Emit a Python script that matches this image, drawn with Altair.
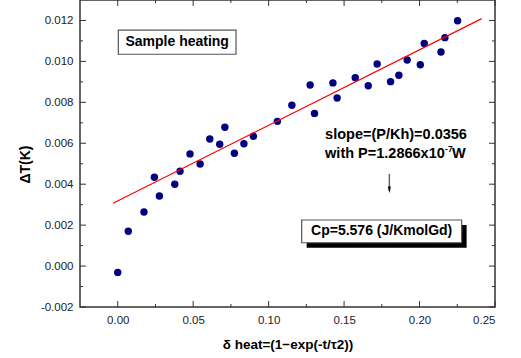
import altair as alt
import pandas as pd

# measured data
dheat = [0.0000, 0.0070, 0.0174, 0.0243, 0.0276, 0.0378, 0.0413, 0.0479, 0.0546, 0.0610,
         0.0676, 0.0710, 0.0773, 0.0836, 0.0899, 0.1058, 0.1154, 0.1275, 0.1304, 0.1426,
         0.1454, 0.1574, 0.1660, 0.1719, 0.1808, 0.1863, 0.1918, 0.2005, 0.2031, 0.2142,
         0.2168, 0.2252]
dT = [-0.00031, 0.00170, 0.00264, 0.00434, 0.00342, 0.00400, 0.00463, 0.00548, 0.00499, 0.00621,
      0.00595, 0.00678, 0.00551, 0.00598, 0.00634, 0.00707, 0.00786, 0.00885, 0.00746, 0.00895,
      0.00821, 0.00920, 0.00881, 0.00987, 0.00901, 0.00932, 0.01007, 0.00984, 0.01088, 0.01046,
      0.01116, 0.01199]

fit_x = [-0.0031, 0.2412]
fit_y = [0.00307, 0.01209]

x_major = [0.0, 0.05, 0.10, 0.15, 0.20, 0.25]
x_minor = [0.025, 0.075, 0.125, 0.175, 0.225]
y_major = [-0.002, 0.000, 0.002, 0.004, 0.006, 0.008, 0.010, 0.012]
y_minor = [-0.001, 0.001, 0.003, 0.005, 0.007, 0.009, 0.011]

# annotation positions (data coordinates)
sample_box = {"x": [0.0004], "x2": [0.0784], "y": [0.01153], "y2": [0.01035]}
sample_text = {"x": [0.0394], "y": [0.01095], "t": ["Sample heating"]}
cp_box = {"x": [0.1219], "x2": [0.2279], "y": [0.00225], "y2": [0.00114]}
cp_shadow = {"x": [0.1252], "x2": [0.2312], "y": [0.00201], "y2": [0.00090]}
cp_text = {"x": [0.1749], "y": [0.00170], "t": ["Cp=5.576 (J/KmolGd)"]}
slope_text = {"x": [0.1374, 0.1374, 0.2215], "y": [0.00640, 0.00546, 0.00546],
              "t": ["slope=(P/Kh)=0.0356", "with P=1.2866x10", "W"]}
sup_text = {"x": [0.2169], "y": [0.00574], "t": ["-7"]}
arrow_line = {"x": [0.18], "y": [0.00450], "y2": [0.00370]}
arrow_head = {"x": [0.18], "y": [0.00372]}

W, H = 415, 307
FONT = "Liberation Sans"

xs = alt.Scale(domain=[-0.025, 0.25], nice=False, zero=False)
ys = alt.Scale(domain=[-0.002, 0.013], nice=False, zero=False)

x_axis = alt.Axis(
    values=x_major, format=".2f", title="δ heat=(1−exp(-t/τ2))",
    domain=False, ticks=False, grid=False, labelPadding=7,
    labelFont=FONT, labelFontSize=11.5, labelColor="#222",
    titleFont=FONT, titleFontSize=13.5, titleFontWeight="bold", titleColor="#000",
    titlePadding=12)
y_axis = alt.Axis(
    values=y_major, labelExpr="(datum.value < -1e-9 ? '-' : '') + format(abs(datum.value), '.3f')",
    title="ΔT(K)", domain=False, ticks=False, grid=False, labelPadding=7,
    labelFont=FONT, labelFontSize=11.5, labelColor="#222",
    titleFont=FONT, titleFontSize=14, titleFontWeight="bold", titleColor="#000",
    titleX=-55, titleY=164, titleAngle=270, titleAlign="center", titleBaseline="middle")


def X(f):
    return alt.X(f, scale=xs, axis=x_axis)


def Y(f):
    return alt.Y(f, scale=ys, axis=y_axis)


pts = pd.DataFrame({"x": dheat, "y": dT})
fit = pd.DataFrame({"x": fit_x, "y": fit_y})

points = alt.Chart(pts).mark_circle(size=55, color="#000080", opacity=1).encode(
    x=X("x:Q"), y=Y("y:Q"))

line = alt.Chart(fit).mark_line(color="#ff0000", strokeWidth=1.2).encode(
    x=X("x:Q"), y=Y("y:Q"))


def yticks(vals, x0, x1):
    return alt.Chart(pd.DataFrame({"y": vals})).mark_rule(color="#333", strokeWidth=1).encode(
        y=Y("y:Q"), x=alt.value(x0), x2=alt.value(x1))


def xticks(vals, y0, y1):
    return alt.Chart(pd.DataFrame({"x": vals})).mark_rule(color="#333", strokeWidth=1).encode(
        x=X("x:Q"), y=alt.value(y0), y2=alt.value(y1))


ticks = [
    yticks(y_major, 0, 6), yticks(y_minor, 0, 3),
    yticks(y_major, W, W - 6), yticks(y_minor, W, W - 3),
    xticks(x_major, H, H - 6), xticks(x_minor, H, H - 3),
    xticks(x_major, 0, 6), xticks(x_minor, 0, 3),
]


def rect(d, fill, stroke=None):
    kw = dict(fill=fill)
    if stroke:
        kw.update(stroke=stroke, strokeWidth=1.2)
    return alt.Chart(pd.DataFrame(d)).mark_rect(**kw).encode(
        x=X("x:Q"), x2="x2:Q", y=Y("y:Q"), y2="y2:Q")


def text(d, size, align="center", bold=True):
    return alt.Chart(pd.DataFrame(d)).mark_text(
        font=FONT, fontSize=size, fontWeight="bold" if bold else "normal",
        align=align, baseline="middle", color="#000").encode(
        x=X("x:Q"), y=Y("y:Q"), text="t:N")


arrow_l = alt.Chart(pd.DataFrame(arrow_line)).mark_rule(color="#666", strokeWidth=1.5).encode(
    x=X("x:Q"), y=Y("y:Q"), y2="y2:Q")
arrow_h = alt.Chart(pd.DataFrame(arrow_head)).mark_point(
    shape="M-0.45,-1L0.45,-1L0,1Z", filled=True, color="#000", size=45, opacity=1).encode(
    x=X("x:Q"), y=Y("y:Q"))

chart = alt.layer(
    points,
    *ticks,
    line,
    rect(sample_box, "#fff", "#555"),
    text(sample_text, 14),
    rect(cp_shadow, "#000"),
    rect(cp_box, "#fff", "#555"),
    text(cp_text, 14),
    text(slope_text, 14.5, align="left"),
    text(sup_text, 8.5, align="left"),
    arrow_l,
    arrow_h,
).properties(
    width=W, height=H,
    autosize=alt.AutoSizeParams(type="none"),
    padding={"left": 80, "top": 0, "right": 26, "bottom": 51},
    background="#ffffff",
).configure_view(stroke="#333", strokeWidth=1.5)

chart.save("out.html", embed_options={"renderer": "svg", "actions": False})
